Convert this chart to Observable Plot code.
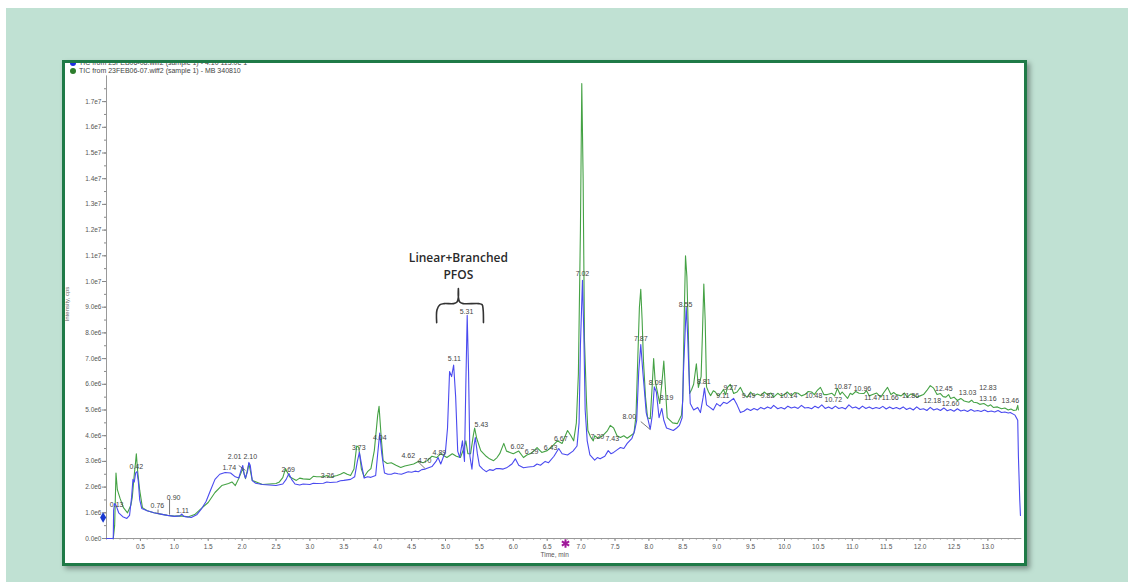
<!DOCTYPE html>
<html><head><meta charset="utf-8">
<script src="https://cdn.jsdelivr.net/npm/d3@7"></script>
<script src="https://cdn.jsdelivr.net/npm/@observablehq/plot@0.6"></script>
<style>
html,body{margin:0;padding:0;background:#fff;}
body{width:1128px;height:582px;overflow:hidden;position:relative;font-family:"Liberation Sans",Arial,sans-serif;}
#bg{position:absolute;left:6px;top:8px;right:0;bottom:0;background:#c0e1d3;}
#box{position:absolute;left:62px;top:60px;width:959px;height:500px;border:3px solid #1f7a47;background:#fff;box-shadow:3px 3px 5px rgba(0,0,0,0.35);overflow:hidden;}
#legend{position:absolute;left:5px;top:-4px;font-size:7px;color:#444;line-height:8px;white-space:nowrap;}
#legend .dot{display:inline-block;width:6px;height:6px;border-radius:50%;margin-right:3px;vertical-align:-1px;}
#ytitle{position:absolute;left:-21px;top:238px;width:45px;text-align:center;font-size:6px;color:#666;transform:rotate(-90deg);white-space:nowrap;}
#chart{position:absolute;left:0;top:0;}
</style></head>
<body>
<div id="bg"></div>
<div id="box">
  <div id="chart"></div>
  <div id="legend"></div>
  <div id="ytitle">Intensity, cps</div>
</div>
<script>
// Series names (legend)
const seriesNames = [
  "TIC from 23FEB06-08.wiff2 (sample 1) - 4.10 113.0e 1",
  "TIC from 23FEB06-07.wiff2 (sample 1) - MB 340810"
];
const seriesColors = ["#1e2ee0", "#2d7d2d"];

// Blue trace: [time (min), intensity (1e6 cps)]
const blueTrace = [
[0,0],[0.1,0],[0.105,1.1],[0.12,1.36],[0.14,1.3],[0.18,1.0],[0.24,0.85],[0.3,0.78],[0.34,0.9],[0.37,1.6],[0.39,2.3],[0.41,2.2],[0.43,2.55],[0.45,2.6],[0.47,2.2],[0.49,1.5],[0.52,1.17],[0.6,1.08],[0.7,1.0],[0.8,0.95],[0.9,0.9],[1.0,0.86],[1.08,0.88],[1.11,0.95],[1.14,0.86],[1.25,0.82],[1.33,0.92],[1.4,1.15],[1.47,1.45],[1.53,1.85],[1.6,2.3],[1.67,2.5],[1.75,2.57],[1.83,2.55],[1.9,2.4],[1.95,2.35],[1.99,2.7],[2.01,2.84],[2.03,2.5],[2.05,2.35],[2.08,2.6],[2.1,2.96],[2.12,2.85],[2.15,2.25],[2.2,2.15],[2.3,2.1],[2.4,2.08],[2.5,2.06],[2.6,2.12],[2.65,2.3],[2.69,2.53],[2.73,2.3],[2.78,2.12],[2.85,2.08],[2.9,2.12],[3.0,2.1],[3.05,2.15],[3.1,2.14],[3.2,2.15],[3.25,2.2],[3.3,2.18],[3.4,2.2],[3.45,2.25],[3.5,2.26],[3.6,2.3],[3.66,2.4],[3.7,3.0],[3.73,3.35],[3.76,2.9],[3.8,2.35],[3.85,2.4],[3.9,2.38],[3.97,2.45],[4.0,3.3],[4.03,4.1],[4.06,3.3],[4.1,2.55],[4.15,2.5],[4.2,2.5],[4.25,2.55],[4.3,2.52],[4.35,2.5],[4.4,2.55],[4.45,2.6],[4.5,2.58],[4.55,2.62],[4.6,2.6],[4.65,2.68],[4.7,2.7],[4.75,2.75],[4.8,2.8],[4.86,3.0],[4.89,3.15],[4.93,2.9],[5.0,3.4],[5.03,4.3],[5.06,6.5],[5.09,6.3],[5.12,6.75],[5.15,5.5],[5.18,3.4],[5.21,3.15],[5.25,3.8],[5.28,3.0],[5.3,6.0],[5.32,8.68],[5.34,6.5],[5.36,3.2],[5.39,2.7],[5.42,3.6],[5.44,3.93],[5.47,3.3],[5.5,2.84],[5.55,2.7],[5.6,2.6],[5.65,2.68],[5.7,2.65],[5.75,2.72],[5.8,2.72],[5.85,2.7],[5.9,2.75],[5.98,2.9],[6.03,3.1],[6.08,2.85],[6.15,2.75],[6.22,2.78],[6.3,2.8],[6.35,2.9],[6.4,2.85],[6.47,3.0],[6.52,2.95],[6.6,3.2],[6.67,3.5],[6.72,3.3],[6.8,3.25],[6.88,3.4],[6.94,3.6],[6.97,4.5],[6.99,7.5],[7.02,10.05],[7.04,8.0],[7.06,5.0],[7.09,3.8],[7.13,3.25],[7.2,3.05],[7.24,3.15],[7.28,3.1],[7.35,3.2],[7.4,3.42],[7.44,3.3],[7.48,3.35],[7.53,3.45],[7.58,3.54],[7.63,3.5],[7.68,3.7],[7.75,3.9],[7.79,4.2],[7.82,4.6],[7.85,6.5],[7.88,7.55],[7.91,6.5],[7.93,5.88],[7.96,4.9],[7.99,4.6],[8.02,4.25],[8.05,4.8],[8.08,5.9],[8.11,5.7],[8.15,4.7],[8.19,5.06],[8.22,4.6],[8.26,4.3],[8.31,4.25],[8.36,4.2],[8.41,4.3],[8.45,4.4],[8.49,4.7],[8.51,6.5],[8.55,9.0],[8.57,8.0],[8.59,6.5],[8.61,5.25],[8.66,5.0],[8.72,5.1],[8.76,4.9],[8.8,5.5],[8.82,5.85],[8.85,5.2],[8.9,5.1],[8.95,5.0],[9.0,5.25],[9.05,5.15],[9.1,5.3],[9.15,5.25],[9.2,5.35],[9.25,5.45],[9.3,5.2],[9.35,4.9],[9.4,4.95],[9.45,5.05],[9.5,4.98],[9.55,5.06],[9.6,5.0],[9.65,5.1],[9.7,5.04],[9.75,5.12],[9.8,5.06],[9.84,5.18],[9.9,5.05],[9.95,5.1],[10.0,5.04],[10.05,5.15],[10.1,5.08],[10.15,5.12],[10.2,5.06],[10.25,5.18],[10.3,5.08],[10.35,5.1],[10.4,5.05],[10.45,5.15],[10.5,5.08],[10.55,5.2],[10.6,5.06],[10.65,5.12],[10.7,5.05],[10.75,5.15],[10.8,5.06],[10.85,5.1],[10.9,5.04],[10.95,5.2],[11.0,5.08],[11.05,5.12],[11.1,5.04],[11.15,5.15],[11.2,5.06],[11.25,5.12],[11.3,5.05],[11.35,5.1],[11.4,5.06],[11.45,5.14],[11.5,5.04],[11.55,5.12],[11.6,5.05],[11.65,5.1],[11.7,5.04],[11.75,5.12],[11.8,5.02],[11.85,5.08],[11.9,5.0],[11.95,5.12],[12.0,5.02],[12.05,5.05],[12.1,4.98],[12.15,5.1],[12.2,5.0],[12.25,5.05],[12.3,4.98],[12.35,5.08],[12.4,4.97],[12.45,5.02],[12.5,4.95],[12.55,5.05],[12.6,4.96],[12.65,5.0],[12.7,4.94],[12.75,5.02],[12.8,4.95],[12.85,4.98],[12.9,4.94],[12.95,5.0],[13.0,4.93],[13.05,4.96],[13.1,4.92],[13.15,4.98],[13.2,4.9],[13.25,4.92],[13.3,4.88],[13.33,4.9],[13.4,4.8],[13.44,4.6],[13.45,3.2],[13.47,1.5],[13.48,0.9]
];

// Green trace: [time (min), intensity (1e6 cps)]
const greenTrace = [
[0.1,0],[0.12,0.5],[0.14,2.55],[0.16,1.9],[0.2,1.56],[0.25,1.2],[0.31,1.0],[0.36,1.3],[0.38,1.6],[0.41,2.5],[0.43,3.0],[0.44,3.3],[0.46,2.6],[0.49,1.87],[0.53,1.2],[0.6,1.08],[0.7,1.0],[0.8,0.95],[0.9,0.9],[1.0,0.87],[1.1,0.88],[1.2,0.84],[1.3,0.93],[1.4,1.17],[1.5,1.4],[1.6,1.79],[1.7,2.06],[1.8,2.14],[1.85,2.2],[1.9,2.06],[1.95,2.33],[2.01,2.72],[2.05,2.33],[2.1,2.92],[2.15,2.26],[2.3,2.1],[2.4,2.12],[2.5,2.14],[2.55,2.2],[2.6,2.37],[2.64,2.72],[2.7,2.4],[2.8,2.26],[2.85,2.35],[2.9,2.32],[3.0,2.3],[3.05,2.42],[3.1,2.4],[3.2,2.4],[3.25,2.45],[3.3,2.38],[3.4,2.45],[3.45,2.5],[3.5,2.57],[3.55,2.5],[3.6,2.45],[3.65,2.7],[3.69,3.6],[3.72,3.55],[3.76,2.7],[3.8,2.4],[3.85,2.6],[3.9,2.72],[3.95,3.42],[4.0,4.8],[4.02,5.14],[4.05,4.0],[4.08,3.03],[4.14,2.92],[4.2,2.95],[4.27,2.85],[4.34,2.76],[4.4,2.82],[4.45,2.85],[4.53,2.9],[4.6,3.0],[4.67,2.95],[4.73,3.03],[4.8,3.2],[4.87,3.15],[4.93,3.3],[5.02,3.15],[5.1,3.3],[5.16,3.2],[5.22,3.15],[5.27,3.5],[5.3,3.8],[5.33,3.3],[5.37,3.3],[5.41,4.0],[5.43,4.3],[5.46,3.9],[5.52,3.42],[5.6,3.2],[5.65,3.1],[5.71,3.03],[5.76,3.15],[5.8,3.3],[5.86,3.7],[5.9,3.4],[5.95,3.35],[6.0,3.3],[6.08,3.4],[6.15,3.15],[6.2,3.25],[6.25,3.3],[6.3,3.4],[6.35,3.54],[6.42,3.35],[6.5,3.42],[6.58,3.6],[6.65,3.8],[6.72,3.7],[6.8,4.2],[6.85,4.0],[6.89,3.8],[6.93,4.5],[6.96,6.4],[6.99,12],[7.01,17.7],[7.03,14],[7.05,7.7],[7.08,5.3],[7.1,4.2],[7.14,3.95],[7.18,3.8],[7.2,4.0],[7.25,3.9],[7.32,4.0],[7.39,4.2],[7.43,4.4],[7.48,4.3],[7.53,4.0],[7.58,3.93],[7.63,4.0],[7.68,3.9],[7.73,4.0],[7.78,4.1],[7.81,4.8],[7.83,6.5],[7.86,9.0],[7.88,9.7],[7.9,8.5],[7.92,6.9],[7.95,5.5],[7.98,4.7],[8.02,4.66],[8.05,6.0],[8.07,7.0],[8.09,6.2],[8.11,5.9],[8.16,5.25],[8.19,6.0],[8.22,6.9],[8.24,6.0],[8.27,4.7],[8.35,4.5],[8.42,4.47],[8.48,4.8],[8.5,5.4],[8.52,8.5],[8.54,11.0],[8.56,10.2],[8.58,8.2],[8.6,5.64],[8.63,5.8],[8.66,6.0],[8.7,6.8],[8.73,5.88],[8.77,6.3],[8.79,8.0],[8.81,9.9],[8.83,8.5],[8.85,5.9],[8.88,5.7],[8.91,5.56],[8.95,5.75],[8.98,5.7],[9.02,5.55],[9.06,5.64],[9.1,5.8],[9.13,5.6],[9.16,5.88],[9.2,6.0],[9.25,5.64],[9.3,5.7],[9.35,5.88],[9.4,5.6],[9.45,5.5],[9.5,5.7],[9.55,5.55],[9.6,5.62],[9.65,5.56],[9.7,5.7],[9.75,5.6],[9.8,5.66],[9.84,5.5],[9.9,5.65],[9.95,5.55],[10.0,5.6],[10.04,5.7],[10.1,5.55],[10.15,5.68],[10.2,5.65],[10.25,5.55],[10.3,5.6],[10.35,5.72],[10.4,5.7],[10.44,5.6],[10.48,5.75],[10.53,5.88],[10.58,5.6],[10.63,5.6],[10.7,5.65],[10.74,5.55],[10.78,5.84],[10.82,5.6],[10.85,5.7],[10.93,5.45],[10.97,5.65],[11.0,5.6],[11.05,5.72],[11.1,5.65],[11.17,5.64],[11.21,5.75],[11.25,5.55],[11.3,5.6],[11.36,5.66],[11.42,5.5],[11.47,5.7],[11.52,5.88],[11.57,5.6],[11.61,5.68],[11.65,5.6],[11.72,5.55],[11.77,5.66],[11.81,5.5],[11.86,5.62],[11.9,5.6],[11.95,5.5],[12.0,5.55],[12.05,5.6],[12.1,5.76],[12.15,5.95],[12.2,5.85],[12.25,5.6],[12.3,5.64],[12.34,5.52],[12.38,5.5],[12.42,5.6],[12.45,5.45],[12.5,5.5],[12.55,5.37],[12.6,5.45],[12.65,5.35],[12.72,5.3],[12.76,5.38],[12.79,5.3],[12.84,5.28],[12.88,5.22],[12.94,5.25],[13.0,5.15],[13.04,5.2],[13.08,5.1],[13.14,5.12],[13.2,5.05],[13.25,5.08],[13.3,5.0],[13.34,5.04],[13.38,4.98],[13.42,5.0],[13.44,5.18],[13.45,5.0]
];

// Peak labels: [time, intensity (1e6), text]
const peakLabels = [
[0.15,1.32,"0.13"],[0.44,2.8,"0.42"],[0.75,1.28,"0.76"],[0.99,1.6,"0.90"],[1.12,1.09,"1.11"],
[1.81,2.76,"1.74"],[1.89,3.19,"2.01"],[2.12,3.19,"2.10"],[2.68,2.68,"2.69"],[3.26,2.45,"3.26"],
[3.72,3.54,"3.73"],[4.03,3.93,"4.04"],[4.45,3.23,"4.62"],[4.69,3.03,"4.70"],[4.91,3.35,"4.89"],
[5.13,7.0,"5.11"],[5.31,8.83,"5.31"],[5.53,4.44,"5.43"],[6.06,3.58,"6.02"],[6.27,3.39,"6.29"],
[6.55,3.54,"6.43"],[6.7,3.89,"6.67"],[7.02,10.3,"7.02"],[7.24,3.97,"7.20"],[7.46,3.89,"7.43"],
[7.71,4.75,"8.00"],[7.88,7.78,"7.87"],[8.1,6.07,"8.09"],[8.26,5.49,"8.19"],[8.54,9.1,"8.55"],
[8.81,6.11,"8.81"],[9.09,5.56,"9.11"],[9.2,5.88,"9.27"],[9.47,5.56,"9.49"],[9.75,5.56,"9.82"],
[10.06,5.56,"10.14"],[10.43,5.56,"10.48"],[10.86,5.91,"10.87"],[10.72,5.41,"10.72"],[11.15,5.84,"10.96"],
[11.3,5.49,"11.47"],[11.56,5.49,"11.66"],[11.86,5.56,"11.86"],[12.35,5.84,"12.45"],[12.18,5.37,"12.18"],
[12.45,5.25,"12.60"],[12.7,5.68,"13.03"],[13.0,5.88,"12.83"],[13.0,5.45,"13.16"],[13.33,5.37,"13.46"]
];

// Leader lines from labels to peaks: [t1, v1, t2, v2]
const leaders = [
[0.76,1.13,0.76,0.97],[0.93,1.52,0.93,0.93],[1.95,2.84,2.05,2.65],[4.59,3.0,4.7,2.72],[7.88,4.55,8.02,4.24]
];

// Annotation
const annotationLines = ["Linear+Branched", "PFOS"];
const annotationPos = [[5.19,10.9],[5.19,10.23]];
// Brace outline points in data units: [time, intensity (1e6)]
const bracePoints = [[4.87,8.4],[4.875,8.9],[4.92,9.1],[4.98,9.14],[5.12,9.14],[5.17,9.2],[5.19,9.4],[5.19,9.73],[5.19,9.4],[5.21,9.2],[5.26,9.14],[5.49,9.14],[5.54,9.1],[5.555,8.9],[5.56,8.4]];

// Axis ticks
const yTicks = d3.range(0, 18, 1);
const yMinor = d3.range(0, 18, 0.5);
const xTicks = d3.range(0.5, 13.01, 0.5);
const xMinor = d3.range(0, 13.45, 0.1);

const yFmt = v => v === 0 ? "0.0e0" : (v < 10 ? v.toFixed(1) + "e6" : (v / 10).toFixed(1) + "e7");

// Legend
const legend = document.getElementById("legend");
seriesNames.forEach((n, i) => {
  const div = document.createElement("div");
  div.innerHTML = `<span class="dot" style="background:${seriesColors[i]}"></span>` + n;
  legend.appendChild(div);
});

const fontFam = "Liberation Sans, Arial, sans-serif";
const plot = Plot.plot({
  width: 959, height: 500,
  marginLeft: 41, marginRight: 2.7, marginTop: 12.4, marginBottom: 25,
  style: {background: "transparent", fontFamily: fontFam, fontSize: "6.5px", color: "#555"},
  x: {domain: [0, 13.5]},
  y: {domain: [0, 18]},
  marks: [
    Plot.axisY({ticks: yMinor, tickSize: 2, tickFormat: () => "", stroke: "#888"}),
    Plot.axisY({ticks: yTicks, tickSize: 4, tickPadding: 1, tickFormat: yFmt, stroke: "#888", fill: "#555", label: null}),
    Plot.axisX({ticks: xMinor, tickSize: 1.5, tickFormat: () => "", stroke: "#888"}),
    Plot.axisX({ticks: xTicks, tickSize: 3, tickPadding: 3, tickFormat: d => d.toFixed(1), stroke: "#888", fill: "#555", label: null}),
    Plot.ruleY([0], {stroke: "#999"}),
    Plot.ruleX([0], {stroke: "#999", y1: 0, y2: 18}),
    Plot.line(greenTrace, {x: d => d[0], y: d => d[1], stroke: "#45a245", strokeWidth: 1.1}),
    Plot.line(blueTrace, {x: d => d[0], y: d => d[1], stroke: "#4a4aef", strokeWidth: 1.1}),
    Plot.link(leaders, {x1: d => d[0], y1: d => d[1], x2: d => d[2], y2: d => d[3], stroke: "#555", strokeWidth: 0.8}),
    Plot.text(peakLabels, {x: d => d[0], y: d => d[1], text: d => d[2], fill: "#444", fontSize: 7}),
    Plot.line(bracePoints, {x: d => d[0], y: d => d[1], stroke: "#333", strokeWidth: 1.6, curve: "catmull-rom"}),
    Plot.text(annotationLines, {x: (d, i) => annotationPos[i][0], y: (d, i) => annotationPos[i][1], text: d => d, fill: "#2a2a2a", fontSize: 12, fontWeight: 600, fontFamily: "Open Sans, sans-serif"}),
    Plot.dot([[6.77, 0]], {x: d => d[0], y: d => d[1], dy: 5, symbol: "asterisk", r: 4, stroke: "#a0189a", strokeWidth: 2}),
    Plot.dot([[-0.05, 0.82]], {x: d => d[0], y: d => d[1], symbol: "diamond", r: 3.2, fill: "#1838d0"}),
    Plot.text(["Time, min"], {x: [6.61], frameAnchor: "bottom", dy: 18, fill: "#555", fontSize: 6.5})
  ]
});
document.getElementById("chart").appendChild(plot);
</script>
</body></html>
